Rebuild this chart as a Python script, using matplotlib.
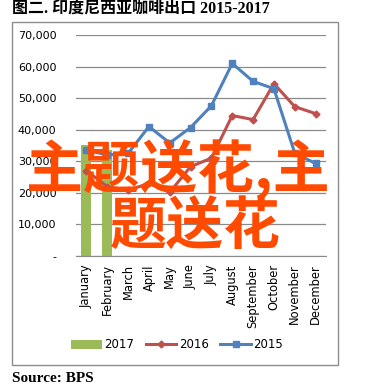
import matplotlib.pyplot as plt
from matplotlib.patches import Rectangle
from matplotlib.ticker import FuncFormatter
import numpy as np

months = ["January", "February", "March", "April", "May", "June", "July",
          "August", "September", "October", "November", "December"]
exp_2017 = [35300, 33500]
exp_2016 = [27000, 22000, 20800, 23000, 20200, 28300, 31000,
            44500, 43200, 54600, 47300, 45100]
exp_2015 = [33500, 32000, 32500, 41000, 35800, 40700, 47600,
            61000, 55300, 53000, 32600, 29300]
yticks = [0, 10000, 20000, 30000, 40000, 50000, 60000, 70000]

W, H = 389, 388
fig = plt.figure(figsize=(W / 100, H / 100), dpi=100)
fig.patch.set_facecolor('white')

# 外框
fig.patches.append(Rectangle((12 / W, 1 - 365 / H), 326 / W, 343 / H,
                             transform=fig.transFigure, fill=False,
                             edgecolor='#8c8c8c', lw=1.0))

ax = fig.add_axes([76 / W, 1 - 256 / H, 250 / W, 221 / H])
x = np.arange(len(months))

b17 = ax.bar(x[:len(exp_2017)], exp_2017, width=0.48, color='#9BBB59',
             label='2017', zorder=2)
l16, = ax.plot(x, exp_2016, color='#C0504D', lw=2.2, marker='D', markersize=3.5,
               label='2016', zorder=3)
l15, = ax.plot(x, exp_2015, color='#4F81BD', lw=2.2, marker='s', markersize=5,
               label='2015', zorder=4)

ax.set_xlim(-0.5, 11.5)
ax.set_ylim(0, 70000)
ax.set_yticks(yticks)
ax.yaxis.set_major_formatter(FuncFormatter(lambda v, p: '-' if v == 0 else f'{int(v):,}'))
ax.set_xticks(x)
ax.set_xticklabels(months, rotation=90, fontsize=8.3, family='DejaVu Sans')
ax.tick_params(axis='y', length=0, pad=14, labelsize=8)
ax.tick_params(axis='x', length=0, pad=6)
ax.grid(axis='y', color='#8a8a8a', lw=0.9, zorder=0)
for s in ['top', 'right', 'left']:
    ax.spines[s].set_visible(False)
ax.spines['bottom'].set_color('#8a8a8a')

fig.legend([b17, l16, l15], ['2017', '2016', '2015'], loc='center',
           bbox_to_anchor=(177 / W, 1 - 345 / H), ncol=3,
           frameon=False, fontsize=8.5, handlelength=2.6, columnspacing=1.0,
           handletextpad=0.2)

# 标题
fig.text(12 / W, 1 - 9 / H, '图二. 印度尼西亚咖啡出口 2015-2017',
         family=['Liberation Serif', 'Noto Sans CJK SC'], weight='bold',
         fontsize=11.5, ha='left', va='center')
fig.text(12 / W, 1 - 378 / H, 'Source: BPS', family='Liberation Serif',
         weight='bold', fontsize=11, ha='left', va='center')

# 水印
wm = dict(family=['Noto Sans CJK SC', 'DejaVu Sans'], weight='bold',
          fontsize=41, color='#FF4A00', ha='center', va='center', zorder=10)
fig.text(178 / W, 1 - 170 / H, '主题送花,主', **wm)
fig.text(195 / W, 1 - 228 / H, '题送花', **wm)

fig.savefig('out.png', dpi=100)
